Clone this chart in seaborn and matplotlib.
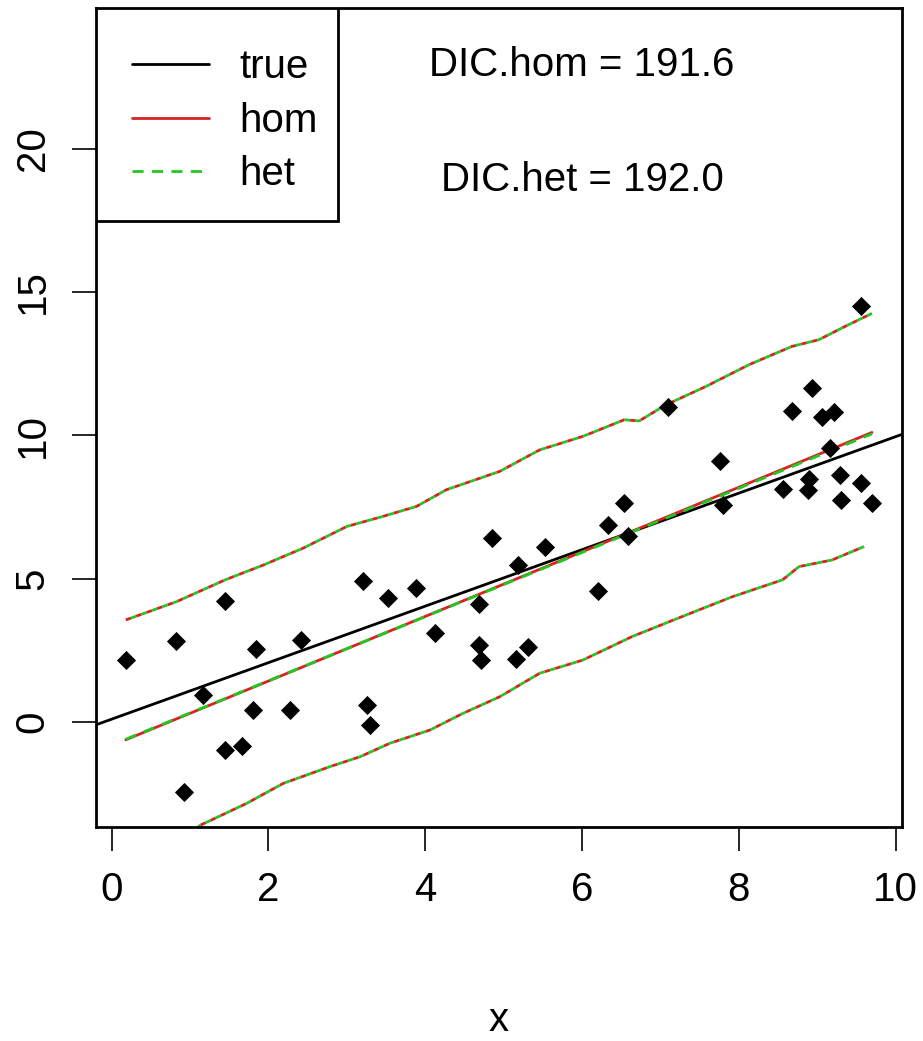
import pandas as pd
import seaborn as sns
import matplotlib.pyplot as plt
from matplotlib.patches import Rectangle

x_obs = [0.18, 0.82, 0.92, 1.16, 1.45, 1.45, 1.66, 1.84, 1.80, 2.27,
         2.42, 3.21, 3.26, 3.29, 3.52, 3.88, 4.12, 4.68, 4.68, 4.71,
         4.85, 5.18, 5.53, 5.16, 5.31, 6.20, 6.33, 6.54, 6.59, 7.10,
         7.76, 7.80, 8.56, 8.68, 8.90, 8.89, 8.94, 9.06, 9.22, 9.16,
         9.29, 9.30, 9.56, 9.70, 9.56]
y_obs = [2.16, 2.84, -2.43, 0.94, 4.23, -0.98, -0.84, 2.54, 0.42, 0.42,
         2.86, 4.92, 0.59, -0.10, 4.32, 4.69, 3.12, 4.10, 2.68, 2.16,
         6.42, 5.48, 6.12, 2.20, 2.63, 4.57, 6.88, 7.63, 6.47, 10.97,
         9.11, 7.57, 8.12, 10.85, 8.47, 8.10, 11.65, 10.64, 10.80, 9.55,
         8.62, 7.73, 8.33, 7.63, 14.50]

# true line
true_intercept = 0.1
true_slope = 0.985

# fitted mean lines (hom / het nearly identical)
fit_x = [0.18, 9.70]
hom_y = [-0.62, 10.10]
het_y = [-0.60, 10.05]

# prediction band, upper
up_x = [0.18, 0.83, 1.45, 1.94, 2.44, 3.00, 3.46, 3.89, 4.27, 4.95,
        5.46, 6.01, 6.54, 6.73, 7.07, 7.58, 8.13, 8.68, 9.02, 9.36, 9.70]
up_y = [3.56, 4.20, 4.96, 5.48, 6.06, 6.82, 7.17, 7.52, 8.10, 8.74,
        9.49, 9.96, 10.54, 10.50, 11.06, 11.70, 12.46, 13.10, 13.33, 13.80, 14.25]

# prediction band, lower
lo_x = [0.92, 1.13, 1.72, 2.19, 2.78, 3.17, 3.55, 4.06, 4.48, 4.95,
        5.46, 6.01, 6.64, 7.28, 7.92, 8.56, 8.77, 9.19, 9.60]
lo_y = [-4.10, -3.60, -2.84, -2.14, -1.56, -1.21, -0.74, -0.28, 0.30, 0.88,
        1.70, 2.16, 2.98, 3.68, 4.37, 4.96, 5.42, 5.65, 6.12]

dic_hom = 191.6
dic_het = 192.0

red = "#d82222"
green = "#22c822"

sns.set_style("white")
plt.rcParams["font.family"] = ["Liberation Sans", "DejaVu Sans"]
plt.rcParams["font.size"] = 29
for key in ["text.color", "axes.labelcolor", "xtick.color", "ytick.color"]:
    plt.rcParams[key] = "black"

fig = plt.figure(figsize=(9.23, 10.41), dpi=100)
ax = fig.add_axes([0.104, 0.2056, 0.873, 0.7867])

pts = pd.DataFrame({"x": x_obs, "y": y_obs})
sns.scatterplot(data=pts, x="x", y="y", marker="D", s=95, color="black",
                linewidth=0, ax=ax, zorder=5)

ax.axline((0, true_intercept), slope=true_slope, color="black", lw=2, label="true")

sns.lineplot(x=fit_x, y=hom_y, color=red, lw=2, ax=ax, label="hom")
sns.lineplot(x=fit_x, y=het_y, color=green, lw=2, ax=ax, label="het",
             linestyle=(0, (4, 3)))

for bx, by in [(up_x, up_y), (lo_x, lo_y)]:
    sns.lineplot(x=bx, y=by, color=red, lw=2, ax=ax, sort=False,
                 linestyle=(0, (2, 2)))
    sns.lineplot(x=bx, y=by, color=green, lw=2, ax=ax, sort=False,
                 linestyle=(2, (2, 2)))

ax.text(6, 22.9, f"DIC.hom = {dic_hom:.1f}", ha="center", va="center", fontsize=29)
ax.text(6, 18.9, f"DIC.het = {dic_het:.1f}", ha="center", va="center", fontsize=29)

ax.set_xlim(-0.20, 10.08)
ax.set_ylim(-3.66, 24.9)
ax.set_xticks([0, 2, 4, 6, 8, 10])
ax.set_yticks([0, 5, 10, 15, 20])
ax.set_xlabel("x", fontsize=29, labelpad=66)
ax.set_ylabel("")
for lab in ax.get_yticklabels():
    lab.set_rotation(90)
    lab.set_va("center")
ax.tick_params(axis="both", direction="out", length=17, width=1.2,
               color="black", labelsize=29, pad=15, left=True, bottom=True)
for sp in ax.spines.values():
    sp.set_color("black")
    sp.set_linewidth(2)

handles, labels = ax.get_legend_handles_labels()
leg = ax.legend(handles[:3], labels[:3], loc="upper left", borderaxespad=0,
                bbox_to_anchor=(-0.005, 1.0),
                fontsize=29, frameon=False, handlelength=1.9,
                handletextpad=0.75, borderpad=1.0, labelspacing=0.38)
# legend box, R style
ax.add_patch(Rectangle((0, 0.74), 0.30, 0.26, transform=ax.transAxes,
                       fill=True, facecolor="white", edgecolor="black",
                       lw=2, zorder=6))
leg.set_zorder(7)

plt.savefig("out.png", dpi=100)
plt.close()
